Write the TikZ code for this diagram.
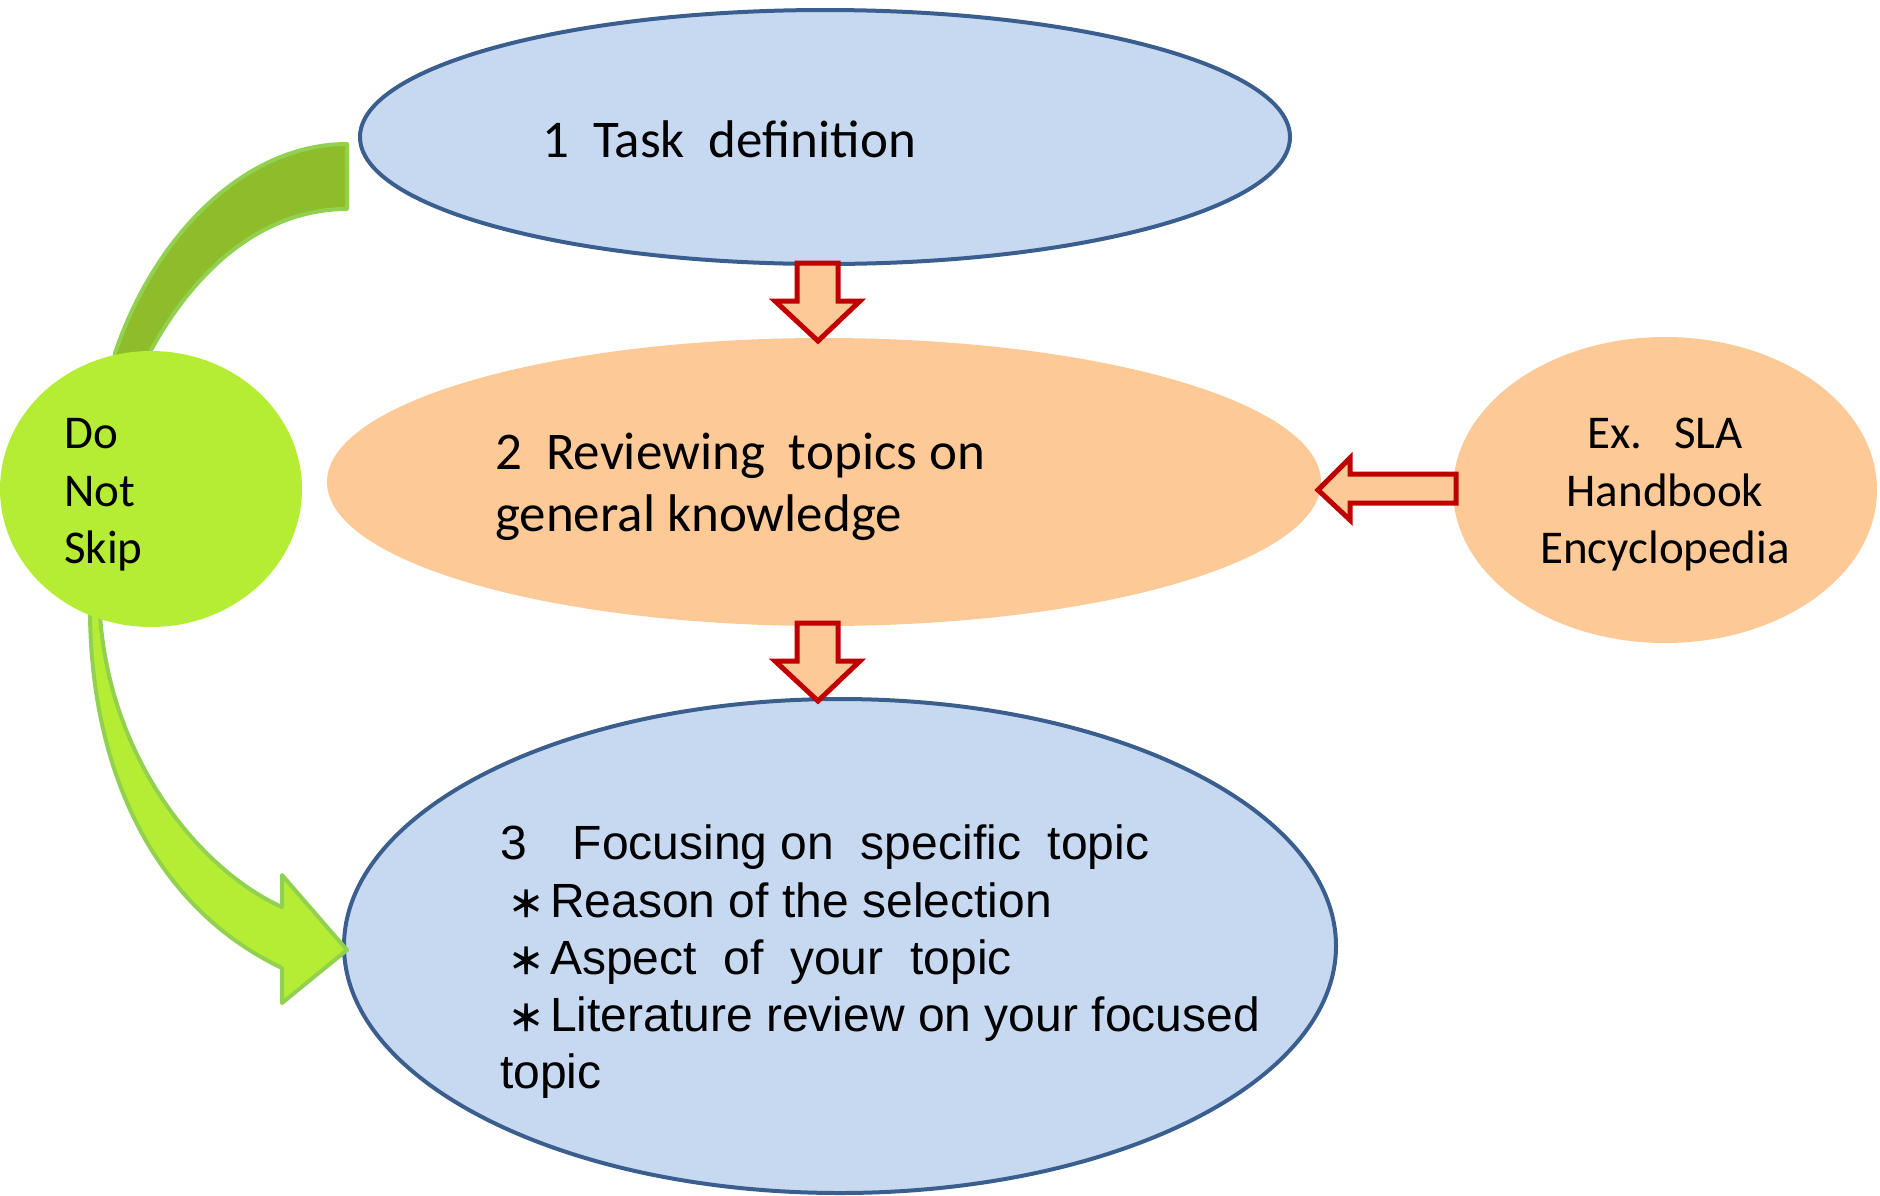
\documentclass[tikz,border=0pt]{standalone}
\usepackage{fontspec}
\setmainfont{Carlito}
\newfontfamily\armfont{Liberation Sans}
\newfontfamily\cjk{Noto Sans CJK JP}
\usetikzlibrary{shapes.geometric}
\definecolor{blueF}{HTML}{C6D9F1}
\definecolor{blueD}{HTML}{3A5F8F}
\definecolor{orangeF}{HTML}{FCC997}
\definecolor{redD}{HTML}{C00000}
\definecolor{limeF}{HTML}{B5ED34}
\definecolor{greenD}{HTML}{92D050}
\definecolor{oliveF}{HTML}{8FBC2A}
\newcommand{\bul}{\makebox[50pt][c]{\hspace{2pt}\cjk\bfseries\fontsize{36}{36}\selectfont ＊}}
\begin{document}
\begin{tikzpicture}[x=1pt,y=-1pt,
  blueell/.style={ellipse, draw=blueD, line width=4pt, fill=blueF, inner sep=0pt},
  orangeell/.style={ellipse, fill=orangeF, inner sep=0pt},
  greenell/.style={ellipse, fill=limeF, inner sep=0pt},
  redarrow/.style={draw=redD, fill=orangeF, line width=5pt, line join=miter},
  greenarrow/.style={draw=greenD, line width=4pt, line join=round},
  bigtxt/.style={font=\fontsize{53}{62}\selectfont, inner sep=0pt, anchor=base west},
  sidetxt/.style={font=\fontsize{47}{57}\selectfont, inner sep=0pt},
  armtxt/.style={font=\armfont\fontsize{48}{57}\selectfont, inner sep=0pt, anchor=base west}]
\useasboundingbox (0,0) rectangle (1880,1195);

% green curved band (behind the circle)
\draw[greenarrow, fill=oliveF] (112,400) -- (115,353) .. controls (155,235) and (245,144) .. (347,144)
  -- (347,209) .. controls (270,209) and (200,260) .. (150,352) -- (150,400) -- cycle;

% ellipses
\node[orangeell, minimum width=994pt, minimum height=288pt] (e2) at (824,482) {};
\node[blueell, minimum width=930pt, minimum height=254pt] (e1) at (825,137) {};
\node[blueell, minimum width=992pt, minimum height=494pt] (e3) at (840,946) {};
\node[orangeell, minimum width=424pt, minimum height=306pt] (ex) at (1665,490) {};

% green bottom arrow
\draw[greenarrow, fill=limeF] (90,600) -- (90,615) .. controls (92,780) and (160,910) .. (282,968)
  -- (282,1003) -- (347,950) -- (282,875) -- (282,907)
  .. controls (200,870) and (110,760) .. (100,615) -- (100,600) -- cycle;

% green circle
\node[greenell, minimum width=302pt, minimum height=276pt] (dns) at (151,489) {};

% red block arrows
\draw[redarrow] (797,263) -- (838,263) -- (838,301) -- (860,301) -- (818,341) -- (775,301) -- (797,301) -- cycle;
\draw[redarrow] (797,623) -- (838,623) -- (838,661) -- (860,661) -- (818,701) -- (775,661) -- (797,661) -- cycle;
\draw[redarrow] (1456,474) -- (1350,474) -- (1350,458) -- (1318,490) -- (1350,520) -- (1350,503) -- (1456,503) -- cycle;

% texts
\node[bigtxt] (t1) at (542,157) {1\ \ Task\ \ definition};
\node[bigtxt] (t2a) at (495,469) {2\ \ Reviewing\ \ topics on};
\node[bigtxt] (t2b) at (495,531) {general knowledge};

\node[sidetxt, anchor=base west] (d1) at (64,448) {Do};
\node[sidetxt, anchor=base west] (d2) at (64,506) {Not};
\node[sidetxt, anchor=base west] (d3) at (64,563) {Skip};

\node[sidetxt, anchor=base] (x1) at (1665,448) {Ex.\ \ \ SLA};
\node[sidetxt, anchor=base] (x2) at (1665,506) {Handbook};
\node[sidetxt, anchor=base] (x3) at (1665,563) {Encyclopedia};

\node[armtxt] (f1) at (500,859) {3\hspace{46pt}Focusing on\ \ specific\ \ topic};
\node[armtxt] (f2) at (500,917) {\bul Reason of the selection};
\node[armtxt] (f3) at (500,974) {\bul Aspect\ \ of\ \ your\ \ topic};
\node[armtxt] (f4) at (500,1031) {\bul Literature review on your focused};
\node[armtxt] (f5) at (500,1088) {topic};
\end{tikzpicture}
\end{document}
